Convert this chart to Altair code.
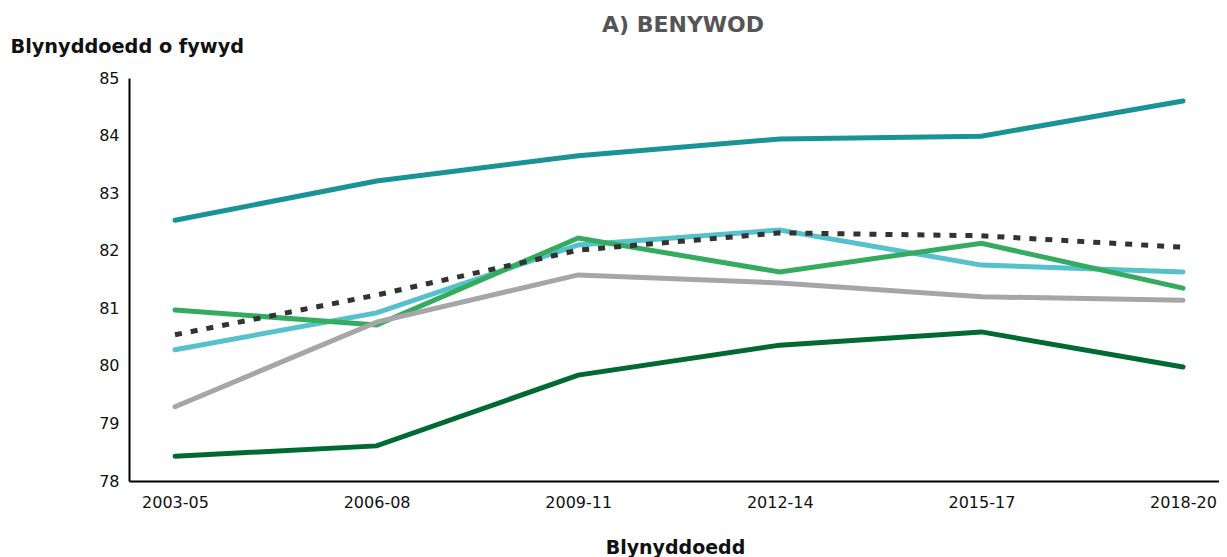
import altair as alt
import pandas as pd

periods = ["2003-05", "2006-08", "2009-11", "2012-14", "2015-17", "2018-20"]

series_names = ["Cyfres 1", "Cyfres 2", "Cyfres 3", "Cyfres 4", "Cyfres 5", "Cymru"]
s1 = [82.53, 83.21, 83.65, 83.94, 83.99, 84.60]
s2 = [80.28, 80.92, 82.10, 82.36, 81.75, 81.63]
s3 = [80.97, 80.71, 82.22, 81.63, 82.13, 81.35]
s4 = [79.29, 80.76, 81.58, 81.44, 81.20, 81.14]
s5 = [78.43, 78.61, 79.84, 80.36, 80.59, 79.98]
s6 = [80.54, 81.23, 82.01, 82.31, 82.26, 82.06]
all_series = [s1, s2, s3, s4, s5, s6]

colors = ["#1a9397", "#56c1cb", "#34ab5f", "#a6a6a6", "#006a32", "#333333"]
dashes = [None, None, None, None, None, [7, 9]]

rows = []
for name, vals in zip(series_names, all_series):
    for p, v in zip(periods, vals):
        rows.append({"series": name, "period": p, "value": v})
df = pd.DataFrame(rows)

FONT = "DejaVu Sans"

x_enc = alt.X(
    "period:N",
    sort=periods,
    scale=alt.Scale(type="point", padding=0.2034, align=0.561),
    axis=alt.Axis(
        title="Blynyddoedd",
        labelAngle=0,
        ticks=False,
        domainColor="#000000",
        domainWidth=2,
        labelPadding=13,
        labelFontSize=16,
        labelColor="#111111",
        labelFont=FONT,
        titleFont=FONT,
        titleFontSize=19,
        titleFontWeight="bold",
        titleColor="#111111",
        titleX=546,
        titleY=72,
        titleBaseline="alphabetic",
        grid=False,
    ),
)
y_enc = alt.Y(
    "value:Q",
    scale=alt.Scale(domain=[78, 85], nice=False, zero=False),
    axis=alt.Axis(
        title="Blynyddoedd o fywyd",
        values=[78, 79, 80, 81, 82, 83, 84, 85],
        ticks=False,
        domainColor="#000000",
        domainWidth=2,
        labelPadding=10,
        labelFontSize=16,
        labelColor="#111111",
        labelFont=FONT,
        titleFont=FONT,
        titleAngle=0,
        titleAlign="left",
        titleBaseline="alphabetic",
        titleX=-119,
        titleY=-26,
        titleFontSize=19.3,
        titleFontWeight="bold",
        titleColor="#111111",
        grid=False,
    ),
)

layers = []
for name, col, dash in zip(series_names, colors, dashes):
    kw = dict(color=col, strokeWidth=5, strokeCap="round" if dash is None else "butt")
    if dash is not None:
        kw["strokeDash"] = dash
    layers.append(
        alt.Chart(df)
        .transform_filter(alt.datum.series == name)
        .mark_line(**kw)
        .encode(x=x_enc, y=y_enc)
    )

chart = (
    alt.layer(*layers)
    .properties(
        width=1090,
        height=403,
        autosize=alt.AutoSizeParams(type="none"),
        padding={"left": 121, "top": 70, "right": 0, "bottom": 80},
        title=alt.TitleParams(
            "A) BENYWOD",
            fontSize=22,
            fontWeight="bold",
            color="#555555",
            anchor="middle",
            offset=0,
            dx=9,
            font=FONT,
        ),
    )
    .configure(font=FONT)
    .configure_view(stroke=None)
)

chart.save("out.html", embed_options={"renderer": "svg", "actions": False})
